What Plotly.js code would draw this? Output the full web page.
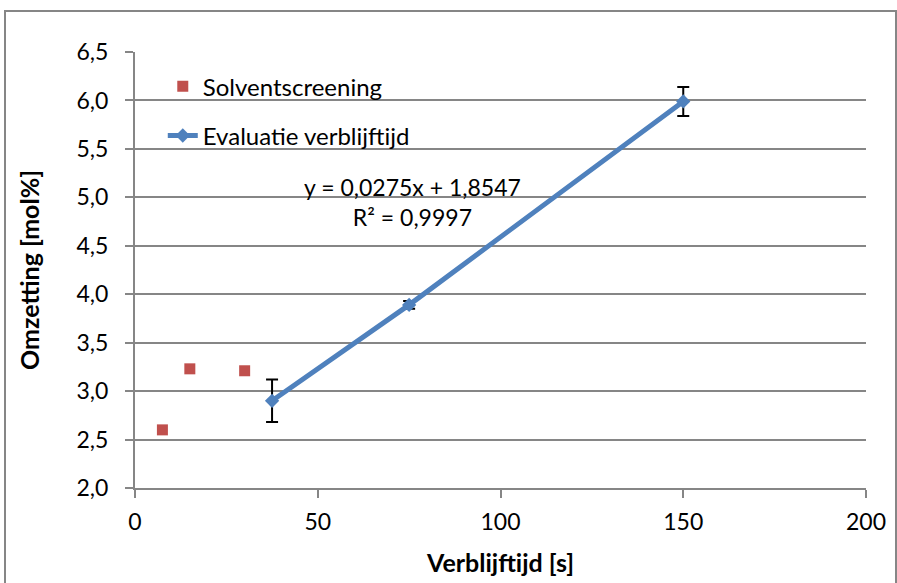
<!DOCTYPE html>
<html>
<head>
<meta charset="utf-8">
<script src="https://cdn.plot.ly/plotly-3.0.1.min.js"></script>
<style>
body{margin:0;padding:0;background:#fff;}
#wrap{position:relative;width:897px;height:583px;}
#plot{width:897px;height:583px;}
#frame{position:absolute;left:4px;top:10px;width:889px;height:580px;border:2px solid #868686;pointer-events:none;}
</style>
</head>
<body>
<div id="wrap"><div id="plot"></div><div id="frame"></div></div>
<script>
// Data
const solventX = [7.5, 15, 30];
const solventY = [2.60, 3.23, 3.21];
const evalX = [37.5, 75, 150];
const evalY = [2.90, 3.89, 5.99];
const evalErr = [0.22, 0.04, 0.15];
const seriesNames = ["Solventscreening", "Evaluatie verblijftijd"];
const eqText = "y = 0,0275x + 1,8547<br>R² = 0,9997";
const xTicks = [0, 50, 100, 150, 200];
const yTicks = [2.0, 2.5, 3.0, 3.5, 4.0, 4.5, 5.0, 5.5, 6.0, 6.5];

const font = "Lato, 'Open Sans', sans-serif";
const fs = 23;
const traces = [
  {
    x: solventX, y: solventY, name: seriesNames[0], mode: "markers", type: "scatter",
    legendgroup: "a",
    marker: {symbol: "square", size: 11, color: "#C0504D"}
  },
  {
    x: evalX, y: evalY, name: seriesNames[1], mode: "lines+markers", type: "scatter",
    legendgroup: "b",
    line: {color: "#4F81BD", width: 5},
    marker: {symbol: "diamond", size: 11, color: "#4F81BD"},
    error_y: {type: "data", array: evalErr, visible: true, color: "#000", thickness: 2, width: 6}
  }
];
const layout = {
  width: 897, height: 583,
  margin: {l: 135, r: 31, t: 52, b: 95},
  paper_bgcolor: "#fff", plot_bgcolor: "#fff",
  separators: ", ",
  font: {family: font, size: fs, color: "#000"},
  showlegend: true,
  legend: {x: 0.038, y: 0.972, xanchor: "left", yanchor: "top", bgcolor: "rgba(0,0,0,0)",
           font: {family: font, size: 24, color: "#000"}, traceorder: "grouped", tracegroupgap: 15},
  xaxis: {
    range: [0, 200], tickvals: xTicks, ticktext: xTicks.map(String),
    showgrid: false, zeroline: false, showline: true, linecolor: "#868686", linewidth: 2,
    ticks: "outside", ticklen: 8, tickcolor: "#868686", tickwidth: 2,
    ticklabelstandoff: 4,
    tickfont: {family: font, size: fs},
    title: {text: "<b>Verblijftijd [s]</b>", font: {family: font, size: 25}, standoff: 21}
  },
  yaxis: {
    range: [2.0, 6.5], tickvals: yTicks, tickformat: ".1f",
    showgrid: true, gridcolor: "#868686", gridwidth: 2, zeroline: false,
    showline: true, linecolor: "#868686", linewidth: 2,
    ticks: "outside", ticklen: 8, tickcolor: "#868686", tickwidth: 2,
    ticklabelstandoff: 12,
    tickfont: {family: font, size: fs},
    title: {text: "<b>Omzetting [mol%]</b>", font: {family: font, size: 25}, standoff: 30}
  },
  annotations: [
    {xref: "x", yref: "y", x: 75.8, y: 4.95, text: eqText, showarrow: false,
     font: {family: font, size: fs, color: "#000"}, align: "center"}
  ]
};
Plotly.newPlot("plot", traces, layout, {displayModeBar: false, staticPlot: true});
</script>
</body>
</html>
